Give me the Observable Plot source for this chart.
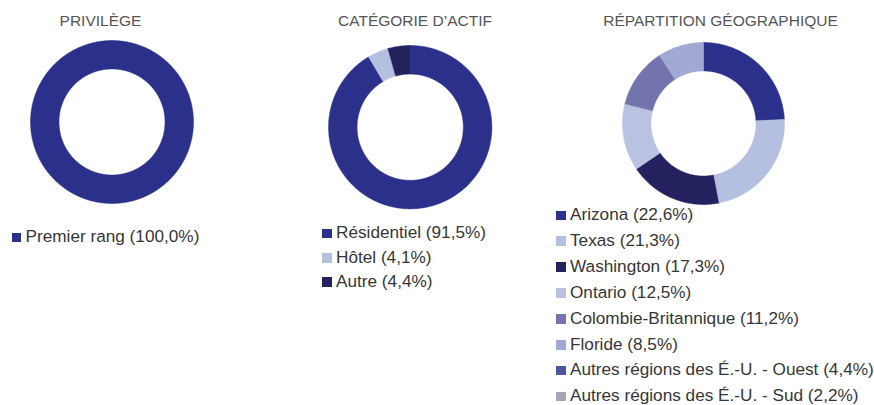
<!DOCTYPE html>
<html><head><meta charset="utf-8">
<script src="https://cdn.jsdelivr.net/npm/d3@7"></script>
<script src="https://cdn.jsdelivr.net/npm/@observablehq/plot@0.6"></script>
<style>
body{margin:0;background:#fff;font-family:Arial,"Liberation Sans",sans-serif}
#root{position:relative;width:874px;height:405px;overflow:hidden;background:#fff}
.title{position:absolute;font-size:15.5px;line-height:16px;color:#555555;white-space:nowrap;transform:translateX(-50%)}
.legend{position:absolute;font-size:17.2px;color:#363636;white-space:nowrap}
.legend .row{display:block}
.sw{display:inline-block;width:9.5px;height:9.5px;margin-right:4.5px}
.chart{position:absolute}
.chart svg{overflow:visible;background:none}
</style></head><body><div id="root"></div>
<script>
// ---- data ----
const privTitle = "PRIVILÈGE";
const privCategories = ["Premier rang"];
const privValues = [100.0];

const actifTitle = "CATÉGORIE D’ACTIF";
const actifCategories = ["Résidentiel", "Hôtel", "Autre"];
const actifValues = [91.5, 4.1, 4.4];

const geoTitle = "RÉPARTITION GÉOGRAPHIQUE";
const geoCategories = ["Arizona", "Texas", "Washington", "Ontario", "Colombie-Britannique", "Floride",
  "Autres régions des É.-U. - Ouest", "Autres régions des É.-U. - Sud"];
const geoValues = [22.6, 21.3, 17.3, 12.5, 11.2, 8.5, 4.4, 2.2];
const geoDonutCount = 6; // the reference ring only draws the first six regions

// ---- styles ----
const privColors = ["#2b318a"];
const actifColors = ["#2b318a", "#b5bfdf", "#24215f"];
const geoColors = ["#2b318a", "#b5bfdf", "#24215f", "#b9c2e0", "#7374ae", "#a1a8d1", "#4f549f", "#a5a5b5"];

const root = document.getElementById("root");

function ringPoints(cats, vals, inner) {
  const arcs = d3.pie().sort(null).value(d => d.value)(cats.map((c, i) => ({cat: c, value: vals[i]})));
  const pts = [];
  for (const a of arcs) {
    const n = Math.max(2, Math.ceil((a.endAngle - a.startAngle) / (Math.PI / 360)));
    const ring = [];
    for (let k = 0; k <= n; k++) {
      const t = a.startAngle + (a.endAngle - a.startAngle) * k / n;
      ring.push([Math.sin(t), Math.cos(t)]);
    }
    for (let k = n; k >= 0; k--) {
      const t = a.startAngle + (a.endAngle - a.startAngle) * k / n;
      ring.push([inner * Math.sin(t), inner * Math.cos(t)]);
    }
    ring.push(ring[0]);
    ring.forEach(([x, y], j) => pts.push({cat: a.data.cat, x, y, j}));
  }
  return pts;
}

function donut(cats, vals, colors, cx, cy, R, inner) {
  const S = 2 * R + 2;
  const chart = Plot.plot({
    width: S, height: S, margin: 1,
    x: {domain: [-1, 1], axis: null},
    y: {domain: [-1, 1], axis: null},
    color: {domain: cats, range: colors},
    marks: [
      Plot.line(ringPoints(cats, vals, inner), {x: "x", y: "y", z: "cat", fill: "cat", stroke: "cat", strokeWidth: 0.5, curve: "linear"})
    ]
  });
  const div = document.createElement("div");
  div.className = "chart";
  div.style.left = (cx - R - 1) + "px";
  div.style.top = (cy - R - 1) + "px";
  div.appendChild(chart);
  root.appendChild(div);
}

function title(text, cx, top) {
  const d = document.createElement("div");
  d.className = "title";
  d.textContent = text;
  d.style.left = cx + "px";
  d.style.top = top + "px";
  root.appendChild(d);
}

function legend(cats, vals, colors, left, top, lh) {
  const d = document.createElement("div");
  d.className = "legend";
  d.style.left = left + "px";
  d.style.top = top + "px";
  d.style.lineHeight = lh + "px";
  cats.forEach((c, i) => {
    const row = document.createElement("div");
    row.className = "row";
    const sw = document.createElement("span");
    sw.className = "sw";
    sw.style.background = colors[i];
    row.appendChild(sw);
    row.appendChild(document.createTextNode(c + " (" + vals[i].toFixed(1).replace(".", ",") + "%)"));
    d.appendChild(row);
  });
  root.appendChild(d);
}

// Panel 1
title(privTitle, 100.5, 13);
donut(privCategories, privValues, privColors, 111.5, 121.7, 81.5, 0.65);
legend(privCategories, privValues, privColors, 11.5, 224, 24);

// Panel 2
title(actifTitle, 415, 13);
donut(actifCategories, actifValues, actifColors, 410, 126.7, 81.7, 0.65);
legend(actifCategories, actifValues, actifColors, 322, 220.3, 24.3);

// Panel 3
title(geoTitle, 720.5, 13);
donut(geoCategories.slice(0, geoDonutCount), geoValues.slice(0, geoDonutCount), geoColors, 703.3, 122.5, 81, 0.648);
legend(geoCategories, geoValues, geoColors, 556, 202, 25.9);
</script></body></html>
